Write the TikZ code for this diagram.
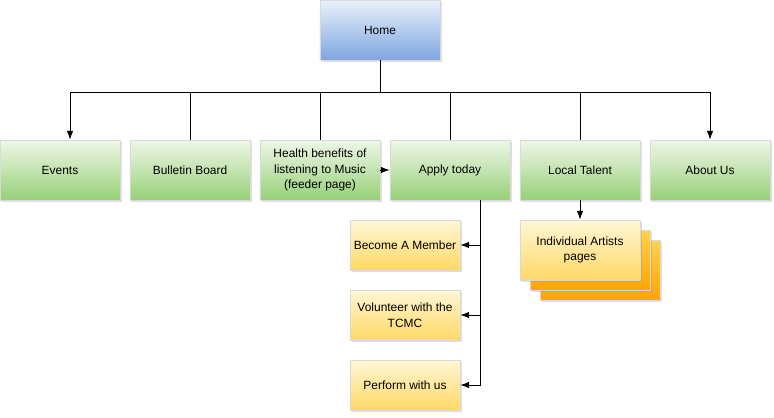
\documentclass[tikz,border=0pt]{standalone}
\usepackage{fontspec}
\setmainfont{Liberation Sans}
\usepackage{xcolor}
\usepackage{tikz}
\usetikzlibrary{shapes.geometric, arrows, arrows.meta, shadows}

\definecolor{greentop}{HTML}{EEF7E8}
\definecolor{greenbot}{HTML}{97D077}
\definecolor{bluetop}{HTML}{EAF1FB}
\definecolor{bluebot}{HTML}{7EA6E0}
\definecolor{yellowtop}{HTML}{FFF6D5}
\definecolor{yellowbot}{HTML}{FFD966}
\definecolor{orangetop}{HTML}{FFD24D}
\definecolor{orangebot}{HTML}{FFA500}

\tikzset{
    page/.style={rectangle, minimum width=3cm, minimum height=1.5cm,
        align=center, inner sep=1pt, font=\fontsize{8.5}{11}\selectfont,
        draw=gray!30, line width=0.3pt,
        drop shadow={shadow xshift=1.2pt, shadow yshift=-1.2pt, opacity=0.25}},
    homepage/.style={page, top color=bluetop, bottom color=bluebot},
    mainpage/.style={page, top color=greentop, bottom color=greenbot},
    subpage/.style={page, minimum width=2.75cm, minimum height=1.25cm,
        top color=yellowtop, bottom color=yellowbot},
    artistpage/.style={page, top color=yellowtop, bottom color=yellowbot},
    backpage/.style={page, top color=orangetop, bottom color=orangebot},
}

\begin{document}
\begin{tikzpicture}[x=0.025cm, y=-0.025cm, >={Latex[length=2.2mm,width=1.6mm]}, line width=0.7pt]
    \useasboundingbox (0,0) rectangle (774,417);

    \node[homepage] (home) at (380,30) {Home};

    \node[mainpage] (events) at (60,170) {Events};
    \node[mainpage] (bulletin) at (190,170) {Bulletin Board};
    \node[mainpage] (health) at (320,170) {Health benefits of\\listening to Music\\(feeder page)};
    \node[mainpage] (apply) at (450,170) {Apply today};
    \node[mainpage] (talent) at (580,170) {Local Talent};
    \node[mainpage] (about) at (710,170) {About Us};

    \node[subpage] (member) at (405,245) {Become A Member};
    \node[subpage] (volunteer) at (405,315) {Volunteer with the\\TCMC};
    \node[subpage] (perform) at (405,385) {Perform with us};

    \node[backpage] (artists3) at (600,270) {};
    \node[backpage] (artists2) at (590,260) {};
    \node[artistpage] (artists) at (580,250) {Individual Artists\\pages};

    \coordinate (bus) at (380,92);
    \coordinate (applyline) at (480,200);

    \draw[-] (home.south) -- (bus);
    \draw[->] (bus) -| ([xshift=0.25cm]events.north);
    \draw[-] (bus) -| (bulletin.north);
    \draw[-] (bus) -| (health.north);
    \draw[-] (bus) -| (apply.north);
    \draw[-] (bus) -| (talent.north);
    \draw[->] (bus) -| (about.north);

    \draw[->] (health.east) -- (apply.west);

    \draw[->] (applyline) |- (member.east);
    \draw[->] (applyline) |- (volunteer.east);
    \draw[->] (applyline) |- (perform.east);

    \draw[->] (talent.south) -- (artists.north);
\end{tikzpicture}
\end{document}
